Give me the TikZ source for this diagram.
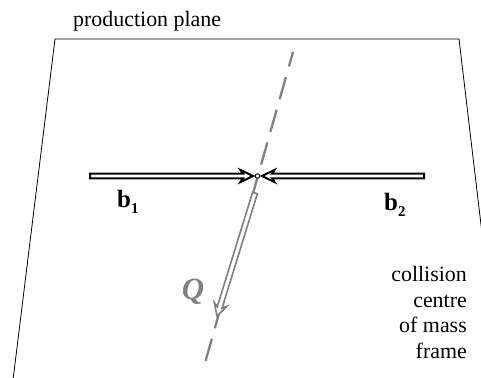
\documentclass[tikz,border=0pt]{standalone}
\usepackage{fontspec}
\setmainfont{Liberation Serif}
\usetikzlibrary{calc}
\definecolor{qgray}{RGB}{128,128,128}
\tikzset{
  lbl/.style={inner sep=0pt, font=\fontsize{22}{25.7}\selectfont},
  blbl/.style={inner sep=0pt, font=\fontsize{25}{25}\selectfont\bfseries},
  openarr/.style n args={4}{to path={
    let \p1=(\tikztostart), \p2=(\tikztotarget),
        \p3=($(\p2)!#3!(\p1)$), \p4=($(\p2)!#4!(\p1)$) in
    ($(\p1)!#1!90:(\p2)$) -- ($(\p3)!#1!-90:(\p1)$) -- ($(\p4)!#2!-90:(\p1)$)
    -- (\p2) -- ($(\p4)!#2!90:(\p1)$) -- ($(\p3)!#1!90:(\p1)$)
    -- ($(\p1)!#1!-90:(\p2)$) -- cycle}},
  beam/.style={draw=black, fill=white, line width=2bp, line join=miter,
    openarr={2.3bp}{6bp}{10bp}{12.5bp}},
  qarrow/.style={draw=qgray, fill=white, line width=1.6bp, line join=miter,
    openarr={2.5bp}{6.5bp}{9bp}{12bp}},
  axis/.style={draw=qgray, line width=2.3bp, dash pattern=on 23bp off 11bp, dash phase=8bp},
  planeedge/.style={draw=black, line width=0.8bp}
}
\newcommand{\beamsub}[1]{\raisebox{-6bp}{\fontsize{15}{15}\selectfont\bfseries #1}}
\begin{document}
\begin{tikzpicture}[x=1bp,y=-1bp]
\useasboundingbox (0,0) rectangle (481,377);
% production plane
\begin{scope}
\clip (0,0) rectangle (481,377);
\coordinate (pl) at (13,380);
\coordinate (ptl) at (55,39);
\coordinate (ptr) at (459,39);
\coordinate (pr) at (484,250);
\draw[planeedge] (pl) -- (ptl) -- (ptr) -- (pr);
\end{scope}
\node[lbl, anchor=base west] (title) at (73,26) {production plane};
% axis
\coordinate (dtop) at (293,52);
\coordinate (dbot) at (203,370);
\draw[axis] (dtop) -- (dbot);
% centre
\node[circle, draw=black, fill=white, line width=0.9bp, inner sep=0pt, outer sep=2.2bp, minimum size=4.5bp] (c) at (257.5,176) {};
\coordinate (b1s) at (90,176);
\coordinate (b2s) at (424,176);
\draw[beam] (b1s) to (c.west);
\draw[beam] (b2s) to (c.east);
% Q arrow
\coordinate (qs) at (255,193);
\coordinate (qe) at (217,316);
\draw[qarrow] (qs) to (qe);
\node[inner sep=0pt, anchor=base, text=qgray, font=\fontsize{31}{31}\selectfont\bfseries\itshape] (Q) at (193,299) {Q};
% labels
\node[blbl, anchor=base west] (b1) at (117,207) {b\beamsub{1}};
\node[blbl, anchor=base west] (b2) at (384,210) {b\beamsub{2}};
\node[lbl, anchor=north east, align=right] (frame) at (467,266) {collision\\centre\\of mass\\frame};
\end{tikzpicture}
\end{document}
